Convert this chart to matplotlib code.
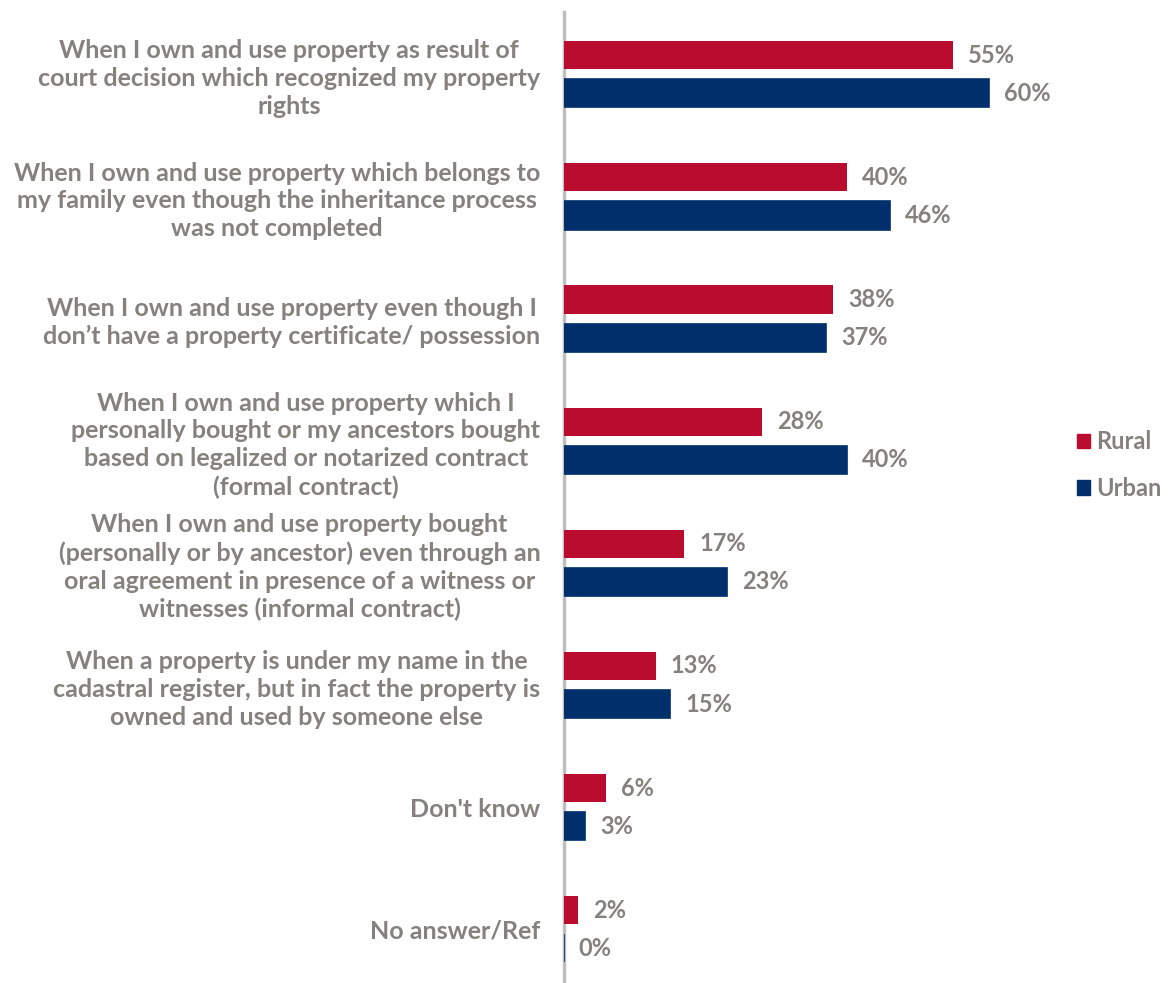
import matplotlib.pyplot as plt
from matplotlib.patches import Patch

categories = [
    "When I own and use property as result of\ncourt decision which recognized my property\nrights",
    "When I own and use property which belongs to\nmy family even though the inheritance process\nwas not completed",
    "When I own and use property even though I\ndon\u2019t have a property certificate/ possession",
    "When I own and use property which I\npersonally bought or my ancestors bought\nbased on legalized or notarized contract\n(formal contract)",
    "When I own and use property bought\n(personally or by ancestor) even through an\noral agreement in presence of a witness or\nwitnesses (informal contract)",
    "When a property is under my name in the\ncadastral register, but in fact the property is\nowned and used by someone else",
    "Don't know",
    "No answer/Ref",
]
rural = [55, 40, 38, 28, 17, 13, 6, 2]
urban = [60, 46, 37, 40, 23, 15, 3, 0]

RED = "#BA0C2F"
BLUE = "#002F6C"
GREY = "#85817C"

plt.rcParams['font.family'] = ['Lato', 'DejaVu Sans']

fig = plt.figure(figsize=(11.7, 9.83), dpi=100)
ax = fig.add_axes([564 / 1170, 0.0, 606 / 1170, 1 - 12 / 983])

off = 0.156
h = 0.23
ys = list(range(len(categories)))
ax.barh([y - off for y in ys], rural, height=h, color=RED, label="Rural", zorder=3)
# thin edge so a 0% bar still shows as a sliver
ax.barh([y + off for y in ys], urban, height=h, color=BLUE, edgecolor=BLUE,
        linewidth=1.2, label="Urban", zorder=3)

for y, r, u in zip(ys, rural, urban):
    ax.text(r + 2.1, y - off, f"{r}%", va="center", ha="left",
            fontsize=17, fontweight="bold", color=GREY)
    ax.text(u + 2.1, y + off, f"{u}%", va="center", ha="left",
            fontsize=17, fontweight="bold", color=GREY)

ax.set_xlim(0, 85.6)
ax.set_ylim(7.44, -0.51)
ax.set_yticks(ys)
ax.set_yticklabels(categories, fontsize=18, fontweight="bold", color=GREY,
                   linespacing=1.25, ha="right")
for lab in ax.get_yticklabels():
    lab.set_multialignment("center")
ax.tick_params(axis="y", length=0, pad=17)
ax.set_xticks([])
for s in ["top", "right", "bottom"]:
    ax.spines[s].set_visible(False)
ax.spines["left"].set_color("#BFBFBF")
ax.spines["left"].set_linewidth(2.5)
ax.spines["left"].set_zorder(2)

handles = [Patch(color=RED, label="Rural"), Patch(color=BLUE, label="Urban")]
leg = fig.legend(handles=handles, loc="center left", bbox_to_anchor=(1077 / 1170, 1 - 465 / 983),
                 frameon=False, borderpad=0, borderaxespad=0, handlelength=0.55,
                 handleheight=0.55, handletextpad=0.25, labelspacing=1.0,
                 prop={"size": 17, "weight": "bold"})
for t in leg.get_texts():
    t.set_color(GREY)

fig.savefig("out.png", dpi=100)
